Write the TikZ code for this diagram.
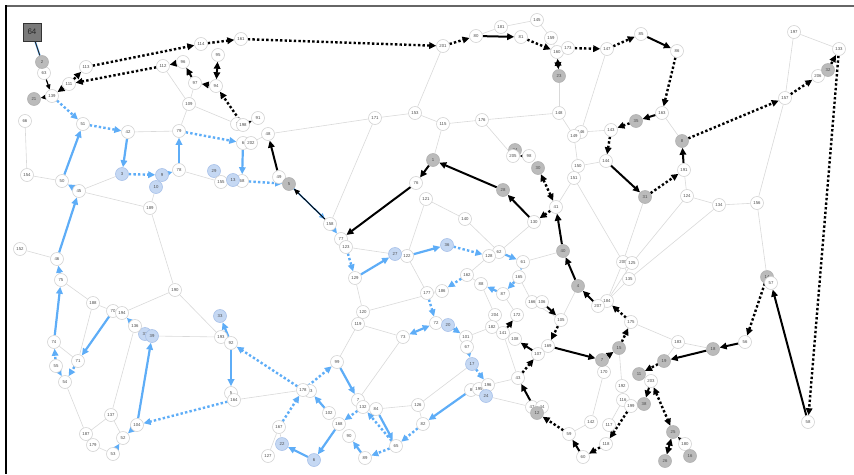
\documentclass[tikz,border=0pt]{standalone}
\usepackage{fontspec}
\setmainfont{Liberation Sans}
\usetikzlibrary{arrows.meta}
\definecolor{bluefill}{HTML}{C5D8F3}
\definecolor{blueborder}{HTML}{A9C2EA}
\definecolor{bl}{HTML}{5EADF7}
\definecolor{grayfill}{HTML}{BBBBBB}
\pgfdeclarelayer{bg}
\pgfsetlayers{bg,main}
\tikzset{
 nd/.style={circle, draw=black!17, fill=white, line width=0.6pt, minimum size=13pt, inner sep=0pt, font=\fontsize{4.3}{4.3}\selectfont, text=black!70},
 gn/.style={nd, fill=grayfill, draw=black!30},
 bn/.style={nd, fill=bluefill, draw=blueborder},
 boxnode/.style={rectangle, draw=black!80, fill=black!52, line width=0.8pt, minimum size=18pt, inner sep=0pt, font=\fontsize{8}{8}\selectfont, text=black!85},
 ge/.style={draw=black!15, line width=0.6pt},
 bs/.style={draw=black, line width=2pt, -{Triangle[length=7pt,width=6.5pt]}},
 bsd/.style={draw=black, line width=2pt, {Triangle[length=7pt,width=6.5pt]}-{Triangle[length=7pt,width=6.5pt]}},
 bd/.style={draw=black, line width=2.4pt, dash pattern=on 2.4pt off 2.2pt, -{Triangle[length=7pt,width=6.5pt]}},
 bdd/.style={draw=black, line width=2.4pt, dash pattern=on 2.4pt off 2.2pt, {Triangle[length=7pt,width=6.5pt]}-{Triangle[length=7pt,width=6.5pt]}},
 bls/.style={draw=bl, line width=2.2pt, -{Triangle[length=7pt,width=6.5pt]}},
 blsd/.style={draw=bl, line width=2.2pt, {Triangle[length=7pt,width=6.5pt]}-{Triangle[length=7pt,width=6.5pt]}},
 bld/.style={draw=bl, line width=2.4pt, dash pattern=on 2.4pt off 2.2pt, -{Triangle[length=7pt,width=6.5pt]}},
}
\begin{document}
\begin{tikzpicture}[x=1pt,y=-1pt]
\useasboundingbox (0,0) rectangle (854,474);
\draw[black!60, line width=2pt] (6,6) -- (854,6);
\draw[black, line width=1.5pt] (6,5) -- (6,474);
% hidden / underlying nodes first
\node[nd] (h1) at (237,124) {1};
\node[nd] (h6) at (243,143) {6};
\node[bn] (n29) at (214,171) {29};
\node[nd] (n155) at (221,182) {155};
\node[nd] (h8b) at (242,181) {68};
\node[nd] (h5) at (231,393) {5};
\node[nd] (h3) at (310,391) {93};
\node[nd] (h7) at (358,400) {7};
\node[nd] (h8) at (471,390) {8};
\node[nd] (n146) at (581,132) {146};
\node[gn] (n34) at (515,150) {34};
\node[nd] (n206) at (818,76) {206};
\node[gn] (n14) at (767,277) {14};
\node[nd] (n47) at (532,407) {47};
\node[nd] (n44) at (542,407) {44};
\node[bn] (n37) at (145,334) {37};
\foreach \l/\x/\y in {63/44/73,139/52/96,111/69/84,113/86/67,112/163/66,96/183/62,114/201/44,97/195/83,109/189/104,66/25/121,51/83/124,42/128/132,79/179/131,161/241/39,95/218/55,94/216/86,198/243/125,91/258/118,48/268/134,202/251/143,171/375/118,153/415/113,201/443/46,80/476/36,181/501/27,145/537/20,81/521/37,159/551/38,160/557/52,173/568/48,147/607/49,148/559/113,115/443/124,176/482/120,149/574/136,143/611/130,205/513/156,98/529/156,85/641/34,86/677/51,197/794/32,133/839/49,157/785/98,163/662/113,154/27/175,50/62/181,45/79/191,78/179/170,189/150/208,152/20/249,46/57/259,75/61/280,190/175/290,188/93/303,70/113/311,194/122/313,49/279/177,158/330/224,77/341/239,123/346/247,122/407/256,129/355/278,120/363/312,76/416/183,150/578/166,144/606/161,151/574/178,121/426/199,41/556/207,140/465/219,130/534/222,62/499/252,128/489/256,61/523/262,200/623/262,125/632/263,135/629/279,162/467/275,165/519/277,88/481/284,177/427/293,186/442/291,87/503/294,184/607/301,166/532/302,106/542/302,207/598/306,204/495/315,172/517/315,191/684/170,124/687/196,134/719/205,156/757/203,57/771/283,74/54/342,136/135/326,71/78/361,55/56/366,54/65/382,137/111/415,104/137/425,187/86/434,52/123/438,179/93/445,53/113/454,193/221/337,92/231/343,119/358/324,73/403/337,99/337/362,164/234/400,178/303/390,102/329/413,132/363/407,84/376/409,126/418/405,168/339/424,90/349/436,82/423/424,167/279/427,65/396/446,127/268/456,89/365/458,105/561/320,175/631/322,72/436/323,182/492/327,141/503/333,101/466/337,108/515/339,169/548/346,67/467/347,107/538/354,170/604/372,43/518/378,195/479/389,196/488/385,192/622/386,116/623/400,199/631/406,142/591/422,117/609/425,59/569/434,118/606/444,60/583/457,183/678/342,56/745/342,203/651/381,58/808/422,180/685/444}
  \node[nd] (n\l) at (\x,\y) {\l};
\foreach \l/\x/\y in {2/42/62,21/34/99,23/559/76,1/433/160,32/828/70,35/636/121,8/682/141,5/289/184,30/538/168,28/503/190,40/563/251,4/578/286,31/645/197,15/619/348,7/602/360,12/537/413,18/713/349,19/664/361,11/639/374,38/644/404,25/673/432,16/690/456,26/665/461}
  \node[gn] (n\l) at (\x,\y) {\l};
\foreach \l/\x/\y in {3/122/174,9/162/175,10/156/187,13/233/180,27/395/254,36/447/245,39/152/336,33/220/316,20/448/325,17/472/364,24/486/396,22/282/444,6/314/460}
  \node[bn] (n\l) at (\x,\y) {\l};
\node[boxnode] (n64) at (32,32) {64};
\begin{pgfonlayer}{bg}
\foreach \a/\b in {n109/n112,n109/n97,n109/n79,n109/h1,n42/n79,n66/n154,n48/n171,n171/n153,n153/n201,n171/n158,n48/n202,n49/n5,n80/n181,n181/n145,n145/n159,n159/n160,n23/n148,n148/n176,n176/n115,n115/n153,n148/n149,n147/n146,n146/n143,n176/n205,n115/n1,n149/n150,n197/n133,n197/n157,n157/n156,n163/n8,n154/n50,n45/n3,n45/n189,n10/n189,n78/n155,n152/n46,n75/n188,n189/n190,n190/n194,n190/n193,n188/n70,n188/n71,n74/n71,n54/n187,n136/n137,n39/n193,n137/n187,n137/n52,n187/n179,n179/n53,n123/n122,n122/n121,n122/n177,n129/n120,n120/n186,n140/n121,n140/n62,n62/n130,n62/n128,n61/n40,n41/n151,n151/n150,n150/n144,n151/n200,n162/n128,n88/n162,n165/n166,n87/n172,n88/n204,n200/n184,n125/n184,n135/n184,n4/n105,n200/n135,n191/n124,n124/n134,n134/n156,n156/n14,n124/n125,n134/n135,n31/n200,n164/n178,n99/n119,n119/n120,n119/n73,n73/h7,n102/n168,n167/n127,n84/n126,n126/n82,n17/n126,n72/n20,n177/n186,n101/n182,n182/n141,n101/n67,n196/n43,n24/n47,n141/n43,n15/n192,n170/n142,n142/n59,n116/n117,n175/n183,n183/n18,n183/n19,n192/n116,n116/n199,n7/n170,n204/n182,n167/n22,n166/n105,n77/n123}
  \draw[ge] (\a) -- (\b);
% black solid
\draw[bl, line width=1.6pt] (n64) -- (n2);
\draw[black!85, line width=0.8pt] (n64) -- (n2);
\draw[draw=black, line width=1.2pt, -{Triangle[length=5pt,width=4.5pt]}] (n63) -- (n139);
\draw[draw=black, line width=1.2pt, -{Triangle[length=5pt,width=4.5pt]}] (n139) -- (n21);
\draw[bl, line width=1.6pt, -{Triangle[length=6pt,width=5pt]}] (n5) -- (n158);
\draw[black, line width=0.9pt, -{Triangle[length=6pt,width=5pt]}] (n158) -- (n5);
\foreach \a/\b in {n97/n96,n94/n97,n49/n48,n80/n81,n85/n86,n163/n35,n191/n8,n1/n76,n28/n1,n130/n28,n40/n41,n4/n40,n207/n4,n144/n31,n106/n105,n141/n172,n76/n77,n58/n57,n12/n43,n107/n108,n169/n7,n7/n15,n60/n59,n56/n18,n18/n19,n203/n38,n180/n25,n96/n112,n98/n205}
  \draw[bs] (\a) -- (\b);
\foreach \a/\b in {n95/n94,n160/n23,n25/n26}
  \draw[bsd] (\a) -- (\b);
% black dotted
\foreach \a/\b in {n112/n111,n111/n139,n111/n113,n113/n114,n114/n161,n161/n201,n198/n94,n198/n91,n201/n80,n81/n160,n173/n147,n147/n85,n86/n163,n8/n157,n157/n206,n32/n133,n35/n143,n143/n144,n133/n58,n31/n191,n41/n130,n175/n184,n14/n56,n43/n107,n105/n169,n15/n175,n59/n12,n118/n60,n199/n118,n19/n11}
  \draw[bd] (\a) -- (\b);
\foreach \a/\b in {n30/n41,n203/n25}
  \draw[bdd] (\a) -- (\b);
% blue solid
\foreach \a/\b in {n50/n51,n42/n3,n78/n79,n45/n50,n46/n45,n75/n46,n74/n75,n9/n78,h6/h8b,n70/n71,n55/n54,n136/n194,n104/n39,n104/n52,n53/n52,n129/n27,n122/n36,n62/n61,n87/n88,n92/n33,n92/h5,n102/h3,n99/h7,n168/n6,n6/n22,n89/n90,n84/n65,h8/n82,n20/n101,n158/n77}
  \draw[bls] (\a) -- (\b);
\draw[blsd] (n73) -- (n72);
% blue dotted
\foreach \a/\b in {n139/n51,n51/n42,n79/h6,n3/n9,h8b/n5,n71/n54,n55/n74,n164/n104,n123/n129,n36/n128,n61/n165,n165/n87,n162/n186,n177/n72,n178/n92,n178/n99,n167/n178,n132/n168,n65/n132,n65/n89,n82/n65,n67/n17,n17/n196}
  \draw[bld] (\a) -- (\b);
\end{pgfonlayer}
\end{tikzpicture}
\end{document}
